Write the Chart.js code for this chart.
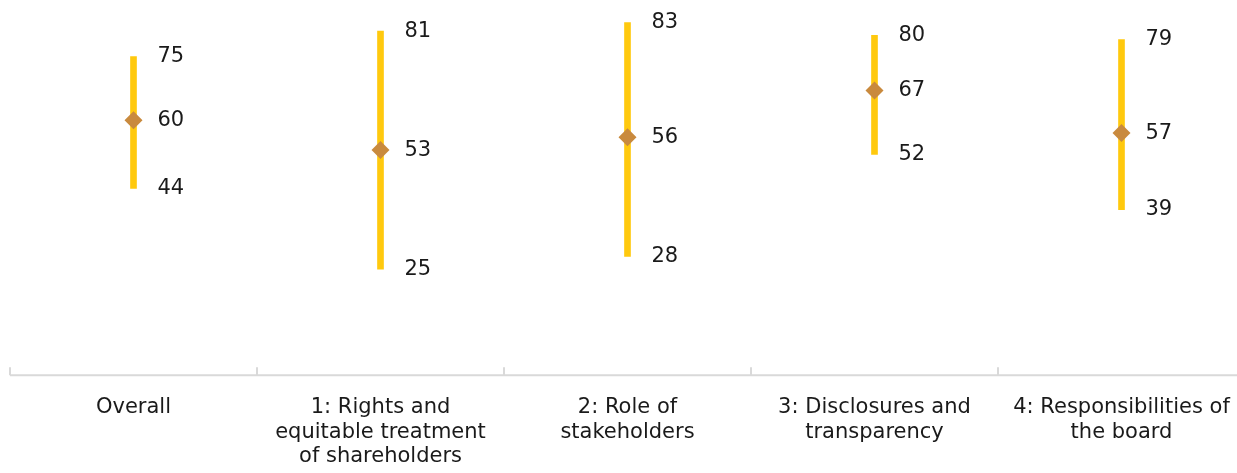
<!DOCTYPE html>
<html>
<head>
<meta charset="utf-8">
<script src="https://cdn.jsdelivr.net/npm/chart.js@4"></script>
<style>
html,body{margin:0;padding:0;background:#fff;overflow:hidden;}
</style>
</head>
<body>
<canvas id="chart" width="1254" height="489"></canvas>
<script>

let categories = [
["Overall"],
["1: Rights and","equitable treatment","of shareholders"],
["2: Role of","stakeholders"],
["3: Disclosures and","transparency"],
["4: Responsibilities of","the board"]
];

let highs = [75, 81, 83, 80, 79];
let avgs = [60, 53, 56, 67, 57];
let lows = [44, 25, 28, 52, 39];

const FONT = "'DejaVu Sans', sans-serif";


/* labels next to the lines + the axis with upward ticks */

const extras = {
id:"extras",
afterDatasetsDraw(c){
let ctx = c.ctx;
let x = c.scales.x;
let y = c.scales.y;
ctx.save();
ctx.font = "21px " + FONT;
ctx.fillStyle = "#1a1a1a";
ctx.textAlign = "left";
ctx.textBaseline = "middle";
for(let i=0;i<highs.length;i++){
let px = x.getPixelForValue(i) + 24;
ctx.fillText(String(highs[i]), px, y.getPixelForValue(highs[i]));
ctx.fillText(String(avgs[i]), px, y.getPixelForValue(avgs[i]));
ctx.fillText(String(lows[i]), px, y.getPixelForValue(lows[i]));
}
// axis
let base = y.getPixelForValue(0);
ctx.strokeStyle = "#d9d9d9";
ctx.lineWidth = 2;
ctx.beginPath();
ctx.moveTo(x.left, base);
ctx.lineTo(x.right, base);
let w = (x.right - x.left) / categories.length;
for(let i=0;i<categories.length;i++){
let tx = x.left + i*w;
ctx.moveTo(tx, base);
ctx.lineTo(tx, base-8);
}
ctx.stroke();
ctx.restore();
}
};


/* CHART */

new Chart(document.getElementById("chart"),{
type:"bar",
data:{
labels:categories,
datasets:[
{
type:"line",
data:avgs,
showLine:false,
pointStyle:"rectRot",
pointRadius:9,
pointHoverRadius:9,
backgroundColor:"#c98a3e",
borderColor:"#c98a3e",
borderWidth:0,
order:0
},
{
data:highs.map((h,i)=>[lows[i], h]),
backgroundColor:"#ffc90e",
barThickness:6,
borderSkipped:false,
order:1
}
]
},
options:{
responsive:false,
animation:false,
layout:{padding:{left:10, right:0, top:0, bottom:0}},
plugins:{legend:{display:false}, tooltip:{enabled:false}},
scales:{
y:{display:false, min:0, max:86.2},
x:{
grid:{display:false, drawTicks:false},
border:{display:false},
ticks:{
color:"#1a1a1a",
font:{family:FONT, size:21, lineHeight:1.17},
padding:20,
maxRotation:0,
autoSkip:false
}
}
}
},
plugins:[extras]
});

</script>
</body>
</html>
